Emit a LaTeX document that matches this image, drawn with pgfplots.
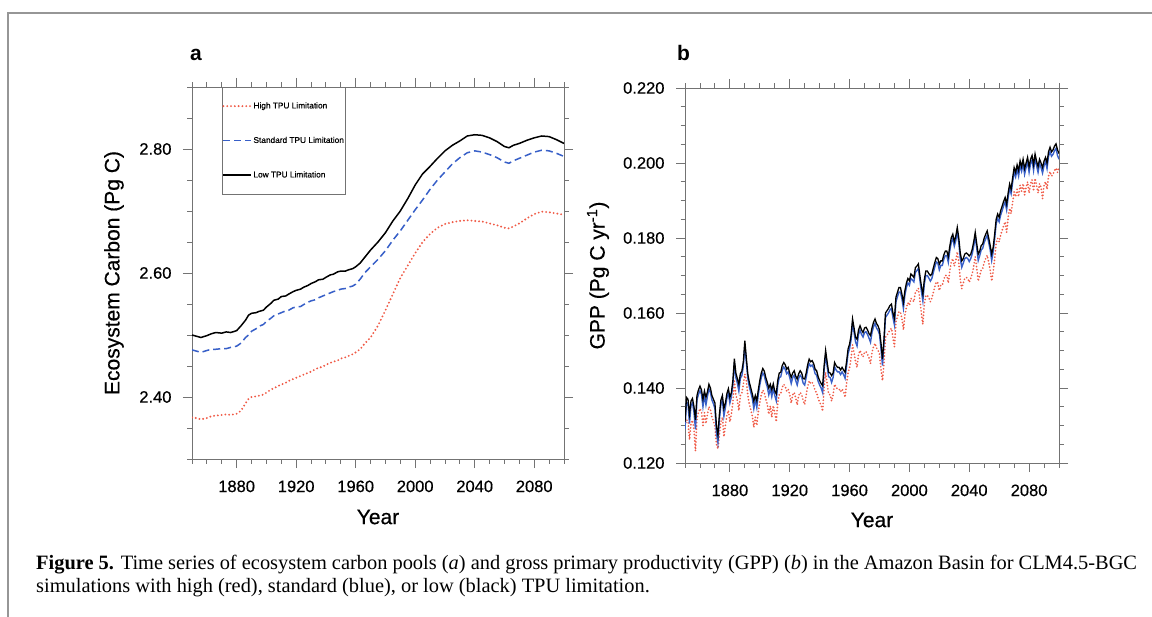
\documentclass[border=0pt]{standalone}
\usepackage{fontspec}
\setmainfont{Liberation Serif}
\newfontfamily\arial{Liberation Sans}
\newfontfamily\arialm[FakeBold=0.45]{Liberation Sans}
\usepackage{pgfplots}
\usepackage{pgfplotstable}
\pgfplotsset{compat=1.18}
\definecolor{redl}{RGB}{240,90,70}
\definecolor{bluel}{RGB}{55,95,200}
\definecolor{axgray}{RGB}{115,115,115}
\definecolor{framegray}{RGB}{150,150,150}

\pgfplotstableread{
year low std high
1850 2.500 2.476 2.367
1853 2.498 2.474 2.366
1856 2.496 2.472 2.364
1860 2.499 2.475 2.366
1863 2.502 2.477 2.369
1866 2.504 2.477 2.370
1870 2.503 2.478 2.371
1873 2.505 2.478 2.372
1876 2.504 2.480 2.371
1880 2.507 2.482 2.373
1883 2.515 2.487 2.378
1886 2.524 2.496 2.390
1888 2.532 2.500 2.397
1890 2.535 2.506 2.400
1893 2.536 2.510 2.401
1895 2.538 2.514 2.402
1898 2.540 2.517 2.404
1900 2.545 2.522 2.407
1903 2.551 2.527 2.412
1905 2.556 2.531 2.414
1908 2.558 2.534 2.418
1910 2.562 2.536 2.420
1913 2.563 2.539 2.423
1915 2.566 2.540 2.426
1918 2.570 2.544 2.429
1920 2.572 2.545 2.431
1923 2.574 2.546 2.434
1925 2.577 2.549 2.436
1928 2.580 2.553 2.439
1930 2.583 2.555 2.441
1933 2.586 2.557 2.445
1935 2.589 2.560 2.447
1938 2.590 2.563 2.449
1940 2.593 2.565 2.452
1943 2.597 2.568 2.455
1945 2.598 2.570 2.457
1948 2.602 2.572 2.459
1950 2.603 2.574 2.462
1953 2.603 2.575 2.464
1955 2.605 2.577 2.466
1958 2.607 2.579 2.469
1960 2.610 2.582 2.472
1963 2.616 2.590 2.477
1966 2.625 2.600 2.486
1970 2.637 2.610 2.496
1975 2.650 2.622 2.515
1980 2.665 2.636 2.540
1985 2.684 2.653 2.566
1990 2.700 2.668 2.592
1995 2.720 2.685 2.612
2000 2.742 2.702 2.632
2005 2.760 2.718 2.650
2010 2.772 2.735 2.663
2015 2.785 2.750 2.673
2020 2.797 2.763 2.679
2025 2.806 2.776 2.682
2030 2.813 2.786 2.684
2035 2.821 2.794 2.685
2040 2.823 2.797 2.684
2045 2.822 2.795 2.683
2050 2.818 2.791 2.680
2055 2.812 2.786 2.677
2060 2.804 2.779 2.673
2063 2.802 2.777 2.672
2066 2.806 2.781 2.675
2070 2.809 2.785 2.680
2075 2.814 2.790 2.688
2080 2.818 2.795 2.695
2085 2.821 2.798 2.699
2090 2.820 2.797 2.698
2095 2.815 2.793 2.696
2100 2.809 2.788 2.694
}\carbon

\pgfplotstableread{
year low std high
1850 .1310 .1290 .1300
1851 .1375 .1363 .1315
1852 .1370 .1358 .1312
1853 .1330 .1305 .1262
1854 .1365 .1353 .1305
1855 .1372 .1360 .1314
1856 .1350 .1335 .1290
1857 .1315 .1290 .1232
1858 .1380 .1368 .1320
1859 .1395 .1383 .1335
1860 .1405 .1393 .1345
1861 .1395 .1383 .1337
1862 .1370 .1350 .1300
1863 .1392 .1380 .1334
1864 .1375 .1355 .1305
1865 .1390 .1378 .1330
1866 .1410 .1398 .1350
1867 .1400 .1388 .1342
1868 .1380 .1368 .1322
1869 .1370 .1358 .1312
1870 .1360 .1345 .1298
1871 .1300 .1280 .1250
1872 .1275 .1255 .1238
1873 .1330 .1315 .1275
1874 .1368 .1356 .1310
1875 .1380 .1368 .1322
1876 .1345 .1325 .1270
1877 .1360 .1348 .1300
1878 .1385 .1373 .1327
1879 .1398 .1386 .1340
1880 .1375 .1360 .1310
1881 .1388 .1376 .1330
1882 .1420 .1408 .1362
1883 .1478 .1466 .1418
1884 .1440 .1428 .1382
1885 .1425 .1413 .1367
1886 .1410 .1392 .1340
1887 .1438 .1426 .1380
1888 .1445 .1433 .1387
1889 .1470 .1458 .1410
1890 .1526 .1514 .1437
1891 .1480 .1468 .1420
1892 .1437 .1425 .1380
1893 .1415 .1403 .1357
1894 .1400 .1388 .1342
1895 .1384 .1372 .1325
1896 .1365 .1345 .1295
1897 .1380 .1368 .1322
1898 .1366 .1348 .1300
1899 .1395 .1383 .1337
1900 .1420 .1408 .1362
1901 .1440 .1428 .1382
1902 .1452 .1440 .1394
1903 .1445 .1433 .1387
1904 .1428 .1416 .1370
1905 .1415 .1403 .1357
1906 .1400 .1382 .1330
1907 .1410 .1398 .1352
1908 .1395 .1377 .1322
1909 .1411 .1399 .1353
1910 .1392 .1380 .1334
1911 .1384 .1366 .1310
1912 .1420 .1408 .1362
1913 .1440 .1428 .1382
1914 .1442 .1430 .1384
1915 .1460 .1448 .1402
1916 .1468 .1456 .1410
1917 .1462 .1450 .1404
1918 .1450 .1438 .1392
1919 .1455 .1443 .1397
1920 .1440 .1428 .1382
1921 .1428 .1412 .1360
1922 .1440 .1428 .1382
1923 .1446 .1434 .1388
1924 .1432 .1420 .1374
1925 .1424 .1408 .1355
1926 .1438 .1426 .1380
1927 .1446 .1434 .1388
1928 .1440 .1428 .1382
1929 .1425 .1413 .1367
1930 .1424 .1408 .1356
1931 .1440 .1428 .1382
1932 .1462 .1450 .1404
1933 .1477 .1465 .1419
1934 .1470 .1458 .1412
1935 .1473 .1461 .1415
1936 .1465 .1453 .1407
1937 .1450 .1438 .1392
1938 .1446 .1434 .1388
1939 .1430 .1418 .1372
1940 .1420 .1408 .1362
1941 .1412 .1400 .1354
1942 .1406 .1388 .1338
1943 .1460 .1448 .1402
1944 .1500 .1488 .1442
1945 .1470 .1458 .1412
1946 .1442 .1430 .1384
1947 .1440 .1428 .1382
1948 .1433 .1415 .1365
1949 .1440 .1428 .1382
1950 .1468 .1456 .1410
1951 .1460 .1448 .1402
1952 .1455 .1443 .1397
1953 .1455 .1443 .1397
1954 .1448 .1436 .1390
1955 .1455 .1443 .1397
1956 .1448 .1436 .1390
1957 .1442 .1426 .1375
1958 .1470 .1458 .1412
1959 .1504 .1492 .1440
1960 .1517 .1505 .1455
1961 .1540 .1528 .1478
1962 .1584 .1572 .1515
1963 .1560 .1548 .1495
1964 .1535 .1523 .1470
1965 .1530 .1512 .1455
1966 .1555 .1543 .1490
1967 .1566 .1554 .1500
1968 .1555 .1543 .1490
1969 .1548 .1536 .1483
1970 .1560 .1548 .1495
1971 .1562 .1550 .1497
1972 .1555 .1543 .1490
1973 .1545 .1533 .1480
1974 .1540 .1522 .1465
1975 .1560 .1548 .1495
1976 .1575 .1563 .1510
1977 .1584 .1572 .1519
1978 .1572 .1560 .1507
1979 .1566 .1554 .1501
1980 .1555 .1543 .1490
1981 .1520 .1505 .1450
1982 .1477 .1460 .1420
1983 .1530 .1518 .1465
1984 .1600 .1588 .1535
1985 .1606 .1594 .1541
1986 .1612 .1600 .1547
1987 .1620 .1608 .1555
1988 .1624 .1612 .1559
1989 .1600 .1588 .1535
1990 .1585 .1568 .1510
1991 .1642 .1630 .1577
1992 .1655 .1643 .1590
1993 .1668 .1656 .1603
1994 .1668 .1656 .1603
1995 .1650 .1638 .1585
1996 .1628 .1612 .1555
1997 .1660 .1648 .1595
1998 .1680 .1668 .1615
1999 .1692 .1680 .1627
2000 .1686 .1674 .1621
2001 .1704 .1692 .1639
2002 .1700 .1688 .1635
2003 .1695 .1683 .1630
2004 .1721 .1709 .1656
2005 .1725 .1713 .1660
2006 .1731 .1719 .1666
2007 .1700 .1688 .1635
2008 .1672 .1658 .1600
2009 .1650 .1632 .1570
2010 .1690 .1678 .1625
2011 .1712 .1700 .1647
2012 .1712 .1700 .1647
2013 .1705 .1693 .1640
2014 .1700 .1685 .1630
2015 .1704 .1692 .1639
2016 .1720 .1708 .1655
2017 .1735 .1723 .1670
2018 .1748 .1736 .1683
2019 .1745 .1733 .1680
2020 .1730 .1715 .1660
2021 .1739 .1727 .1674
2022 .1739 .1727 .1674
2023 .1755 .1743 .1690
2024 .1765 .1753 .1700
2025 .1765 .1753 .1700
2026 .1750 .1735 .1680
2027 .1778 .1766 .1713
2028 .1801 .1789 .1736
2029 .1810 .1798 .1745
2030 .1790 .1778 .1725
2031 .1805 .1793 .1740
2032 .1828 .1816 .1763
2033 .1800 .1788 .1735
2034 .1760 .1745 .1690
2035 .1739 .1722 .1665
2036 .1745 .1733 .1680
2037 .1757 .1745 .1692
2038 .1760 .1748 .1695
2039 .1757 .1745 .1692
2040 .1752 .1737 .1682
2041 .1757 .1745 .1692
2042 .1770 .1758 .1705
2043 .1790 .1778 .1725
2044 .1815 .1803 .1750
2045 .1785 .1773 .1720
2046 .1757 .1740 .1685
2047 .1765 .1753 .1700
2048 .1780 .1768 .1715
2049 .1784 .1772 .1719
2050 .1800 .1788 .1735
2051 .1810 .1798 .1745
2052 .1819 .1807 .1754
2053 .1800 .1788 .1735
2054 .1780 .1768 .1715
2055 .1757 .1740 .1685
2056 .1775 .1763 .1710
2057 .1810 .1798 .1745
2058 .1850 .1838 .1785
2059 .1864 .1852 .1799
2060 .1855 .1843 .1790
2061 .1873 .1861 .1808
2062 .1885 .1873 .1820
2063 .1898 .1886 .1833
2064 .1908 .1896 .1843
2065 .1890 .1875 .1815
2066 .1920 .1908 .1855
2067 .1944 .1932 .1879
2068 .1930 .1918 .1865
2069 .1960 .1948 .1895
2070 .1988 .1976 .1923
2071 .1975 .1963 .1910
2072 .1995 .1983 .1930
2073 .1980 .1965 .1910
2074 .2006 .1994 .1941
2075 .1990 .1978 .1925
2076 .2010 .1998 .1945
2077 .1985 .1970 .1915
2078 .2000 .1988 .1935
2079 .2015 .2003 .1950
2080 .1990 .1975 .1920
2081 .2010 .1998 .1945
2082 .2020 .2008 .1955
2083 .1995 .1980 .1925
2084 .2024 .2012 .1959
2085 .2005 .1993 .1940
2086 .1990 .1975 .1920
2087 .2010 .1998 .1945
2088 .2000 .1988 .1935
2089 .1988 .1973 .1905
2090 .2005 .1993 .1940
2091 .2015 .2003 .1950
2092 .2000 .1985 .1930
2093 .2030 .2018 .1965
2094 .2042 .2030 .1977
2095 .2030 .2018 .1965
2096 .2035 .2023 .1970
2097 .2045 .2033 .1980
2098 .2051 .2039 .1986
2099 .2035 .2020 .1975
2100 .2025 .2010 .1990
}\gpp

\pgfplotsset{
  panel/.style={
    scale only axis,
    axis line style={axgray, line width=0.9pt},
    every tick/.style={axgray, line width=0.9pt},
    tick align=outside,
    major tick length=9pt,
    minor tick length=4.5pt,
    xmin=1850, xmax=2100,
    xtick={1880,1920,1960,2000,2040,2080},
    minor xtick={1850,1860,...,2100},
    /pgf/number format/assume math mode=true,
    ticklabel style={font=\arialm\fontsize{16.5}{16.5}\selectfont},
    x tick label style={/pgf/number format/1000 sep={}, yshift=-9pt},
    y tick label style={xshift=-8pt},
    xlabel={Year},
    label style={font=\arialm\fontsize{21}{21}\selectfont},
  },
  hi/.style={redl, line width=2.1pt, line cap=round, dash pattern=on 0pt off 3.8pt},
  st/.style={bluel, line width=1.5pt, dash pattern=on 7pt off 4pt},
  lo/.style={black, line width=1.5pt},
}

\begin{document}
\begin{tikzpicture}
\useasboundingbox (0pt,0pt) rectangle (1152pt,-617pt);
\fill[white] (0pt,0pt) rectangle (1152pt,-617pt);
\draw[framegray, line width=1.5pt] (8pt,-617pt) -- (8pt,-13pt) -- (1152pt,-13pt);

% panel a
\begin{axis}[panel,
  at={(192pt,-459pt)}, anchor=south west,
  width=372pt, height=372pt,
  ymin=2.3, ymax=2.9,
  ytick={2.4,2.6,2.8},
  minor ytick={2.30,2.35,2.45,2.50,2.55,2.65,2.70,2.75,2.85,2.90},
  yticklabel style={/pgf/number format/.cd, fixed, fixed zerofill, precision=2},
  ylabel={Ecosystem Carbon (Pg C)},
  xlabel style={at={(axis description cs:0.5,-0.1559)}, anchor=center},
  ylabel style={at={(axis description cs:-0.2097,0.5)}, anchor=center},
  legend cell align=left,
  legend style={at={(axis description cs:0.0806,1)}, anchor=north west,
    draw=axgray, line width=0.8pt, fill=white,
    font=\arialm\fontsize{8.3}{9}\selectfont,
    inner xsep=0pt, inner ysep=14pt, row sep=25pt,
    nodes={inner sep=1pt}},
  legend image code/.code={\draw[#1] (0pt,0pt) -- (28pt,0pt);},
]
\addplot[hi] table[x=year, y=high] {\carbon};
\addlegendentry{High TPU Limitation}
\addplot[st] table[x=year, y=std] {\carbon};
\addlegendentry{Standard TPU Limitation}
\addplot[lo] table[x=year, y=low] {\carbon};
\addlegendentry{Low TPU Limitation}
\end{axis}

% panel b
\begin{axis}[panel,
  at={(685pt,-463pt)}, anchor=south west,
  width=374pt, height=375pt,
  ymin=0.12, ymax=0.22,
  ytick={0.120,0.140,0.160,0.180,0.200,0.220},
  minor ytick={0.125,0.130,0.135,0.145,0.150,0.155,0.165,0.170,0.175,0.185,0.190,0.195,0.205,0.210,0.215},
  yticklabel style={/pgf/number format/.cd, fixed, fixed zerofill, precision=3},
  ylabel={GPP (Pg C yr\textsuperscript{-1})},
  xlabel style={at={(axis description cs:0.5,-0.152)}, anchor=center},
  ylabel style={at={(axis description cs:-0.2326,0.5)}, anchor=center},
]
\addplot[hi, line width=1.9pt, dash pattern=on 0pt off 3.2pt] table[x=year, y=high] {\gpp};
\addplot[bluel, line width=1.4pt] table[x=year, y=std] {\gpp};
\addplot[lo, line width=1.3pt] table[x=year, y=low] {\gpp};
\end{axis}

\node[anchor=base west, inner sep=0pt, font=\arial\bfseries\fontsize{21}{21}\selectfont] at (190pt,-61pt) {a};
\node[anchor=base west, inner sep=0pt, font=\arial\bfseries\fontsize{21}{21}\selectfont] at (677pt,-61pt) {b};

\node[anchor=base west, inner sep=0pt, font=\fontsize{20.4}{24}\selectfont] at (36pt,-569pt)
  {\textbf{Figure 5.} Time series of ecosystem carbon pools (\textit{a}) and gross primary productivity (GPP) (\textit{b}) in the Amazon Basin for CLM4.5-BGC};
\node[anchor=base west, inner sep=0pt, font=\fontsize{20.4}{24}\selectfont] at (36pt,-592pt)
  {simulations with high (red), standard (blue), or low (black) TPU limitation.};
\end{tikzpicture}
\end{document}
